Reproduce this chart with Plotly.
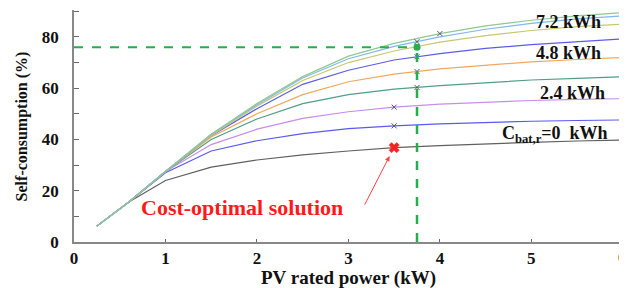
import numpy as np
import plotly.graph_objects as go

# PV rated power (kW)
pv = [0.25, 0.6, 1.0, 1.5, 2.0, 2.5, 3.0, 3.5, 4.0, 4.5, 5.0, 5.5, 6.0]

# Self-consumption (%) for each battery capacity curve
sc_0   = [6.2, 15.6, 24.0, 29.2, 32.0, 34.0, 35.5, 36.8, 37.6, 38.3, 38.9, 39.4, 39.8]
sc_1   = [6.2, 15.6, 27.0, 35.5, 39.5, 42.3, 44.2, 45.3, 46.1, 46.7, 47.1, 47.4, 47.6]
sc_2   = [6.2, 15.6, 27.5, 38.0, 44.0, 48.2, 50.8, 52.6, 53.8, 54.6, 55.2, 55.6, 55.9]
sc_3   = [6.2, 15.6, 27.5, 40.0, 48.0, 54.0, 57.5, 59.6, 61.0, 62.2, 63.2, 63.8, 64.5]
sc_4   = [6.2, 15.6, 27.5, 41.0, 50.0, 57.5, 62.5, 65.5, 67.5, 69.0, 70.3, 71.2, 72.0]
sc_5   = [6.2, 15.6, 27.5, 41.5, 52.0, 61.5, 67.0, 71.0, 73.5, 75.5, 77.0, 78.2, 79.2]
sc_6   = [6.2, 15.6, 27.5, 41.5, 53.0, 63.0, 70.0, 74.5, 78.0, 80.5, 82.5, 84.0, 85.0]
sc_7   = [6.2, 15.6, 27.5, 42.0, 53.5, 64.0, 71.5, 76.3, 80.0, 83.0, 85.3, 87.0, 88.2]
sc_8   = [6.2, 15.6, 27.5, 42.0, 54.0, 64.5, 72.5, 77.5, 81.3, 84.3, 86.5, 88.2, 89.5]

series = [sc_0, sc_1, sc_2, sc_3, sc_4, sc_5, sc_6, sc_7, sc_8]
colors = ["#606060", "#5a5af0", "#c88cf0", "#4f9f88", "#f0a860",
          "#5c5ce8", "#c8c870", "#80b8f0", "#90c890"]
# optimal PV size marked on each curve
opt_pv = [3.5, 3.5, 3.5, 3.75, 3.75, 3.75, 3.75, 3.75, 4.0]

cost_opt_pv = 3.5
chosen_pv = 3.75
chosen_sc = 76

labels = ["7.2 kWh", "4.8 kWh", "2.4 kWh", "C<sub>bat,r</sub>=0  kWh"]
label_x = [5.41, 5.41, 5.45, 5.26]
label_y = [85.8, 73.7, 58.3, 42.0]

x_ticks = [0, 1, 2, 3, 4, 5, 6]
y_ticks = list(range(0, 91, 10))

FONT = "Liberation Serif"

fig = go.Figure()
for s, c in zip(series, colors):
    fig.add_trace(go.Scatter(x=pv, y=s, mode="lines",
                             line=dict(color=c, width=1.2), showlegend=False))

# small markers at the optimum of each battery curve
mx, my = [], []
for i, (s, xo) in enumerate(zip(series, opt_pv)):
    if i == 0:
        continue
    mx.append(xo)
    my.append(float(np.interp(xo, pv, s)))
fig.add_trace(go.Scatter(x=mx, y=my, mode="markers",
                         marker=dict(symbol="x-thin", size=5, color="#555",
                                     line=dict(width=1, color="#555")),
                         showlegend=False))

# chosen solution dashed lines
fig.add_trace(go.Scatter(x=[0, chosen_pv], y=[chosen_sc, chosen_sc], mode="lines",
                         line=dict(color="#22b04a", width=2, dash="dash"), showlegend=False))
fig.add_trace(go.Scatter(x=[chosen_pv, chosen_pv], y=[0, chosen_sc], mode="lines",
                         line=dict(color="#22b04a", width=2.5, dash="dash"), showlegend=False))
fig.add_trace(go.Scatter(x=[chosen_pv], y=[chosen_sc], mode="markers",
                         marker=dict(symbol="circle", size=7, color="#22b04a"),
                         showlegend=False))

# cost-optimal marker
fig.add_trace(go.Scatter(x=[cost_opt_pv], y=[float(np.interp(cost_opt_pv, pv, sc_0))],
                         mode="markers",
                         marker=dict(symbol="x", size=9, color="#ff2020",
                                     line=dict(width=0.5, color="#ff2020")),
                         showlegend=False))

for t, x, y in zip(labels, label_x, label_y):
    fig.add_annotation(x=x, y=y, text="<b>%s</b>" % t, showarrow=False,
                       font=dict(family=FONT, size=18, color="#111"))

fig.add_annotation(x=1.84, y=13.6, text="<b>Cost-optimal solution</b>", showarrow=False,
                   font=dict(family=FONT, size=22, color="#ff1a1a"))
fig.add_annotation(x=3.45, y=33.5, ax=3.17, ay=14.0, xref="x", yref="y",
                   axref="x", ayref="y", text="", showarrow=True,
                   arrowhead=2, arrowsize=1, arrowwidth=1, arrowcolor="#ff4040")

# last x tick label (drawn as annotation so it is not dropped at the edge)
fig.add_annotation(x=x_ticks[-1], xref="x", y=0, yref="paper", yanchor="middle",
                   yshift=-15.5, text="<b>%d</b>" % x_ticks[-1], showarrow=False,
                   font=dict(family=FONT, size=17, color="#111"))

# axis titles
fig.add_annotation(xref="paper", yref="paper", x=0.5, y=-0.155, yanchor="middle",
                   text="<b>PV rated power (kW)</b>", showarrow=False,
                   font=dict(family=FONT, size=19, color="#111"))
fig.add_annotation(xref="paper", yref="paper", x=-0.094, y=0.5, xanchor="center",
                   yanchor="middle", textangle=-90, text="<b>Self-consumption (%)</b>",
                   showarrow=False, font=dict(family=FONT, size=16, color="#111"))

fig.update_layout(
    width=619, height=280,
    margin=dict(l=66, r=4, t=2, b=46, autoexpand=False),
    paper_bgcolor="white", plot_bgcolor="white",
    font=dict(family=FONT, size=17, color="#111"),
)
fig.update_xaxes(range=[0, 6.002], tickvals=x_ticks,
                 ticktext=["<b>%d</b>" % v if v != x_ticks[-1] else "" for v in x_ticks],
                 automargin=False,
                 showgrid=False, zeroline=False, showline=True, linecolor="#888",
                 linewidth=1.5, ticks="inside", ticklen=3, tickcolor="#666")
fig.update_yaxes(range=[0, 90.5], tickvals=y_ticks,
                 ticktext=["<b>%d</b>" % v if v % 20 == 0 else "" for v in y_ticks],
                 automargin=False, ticklabelstandoff=10,
                 showgrid=False, zeroline=False, showline=True, linecolor="#888",
                 linewidth=1.5, ticks="inside", ticklen=5, tickcolor="#666")

fig.write_html("out.html")
